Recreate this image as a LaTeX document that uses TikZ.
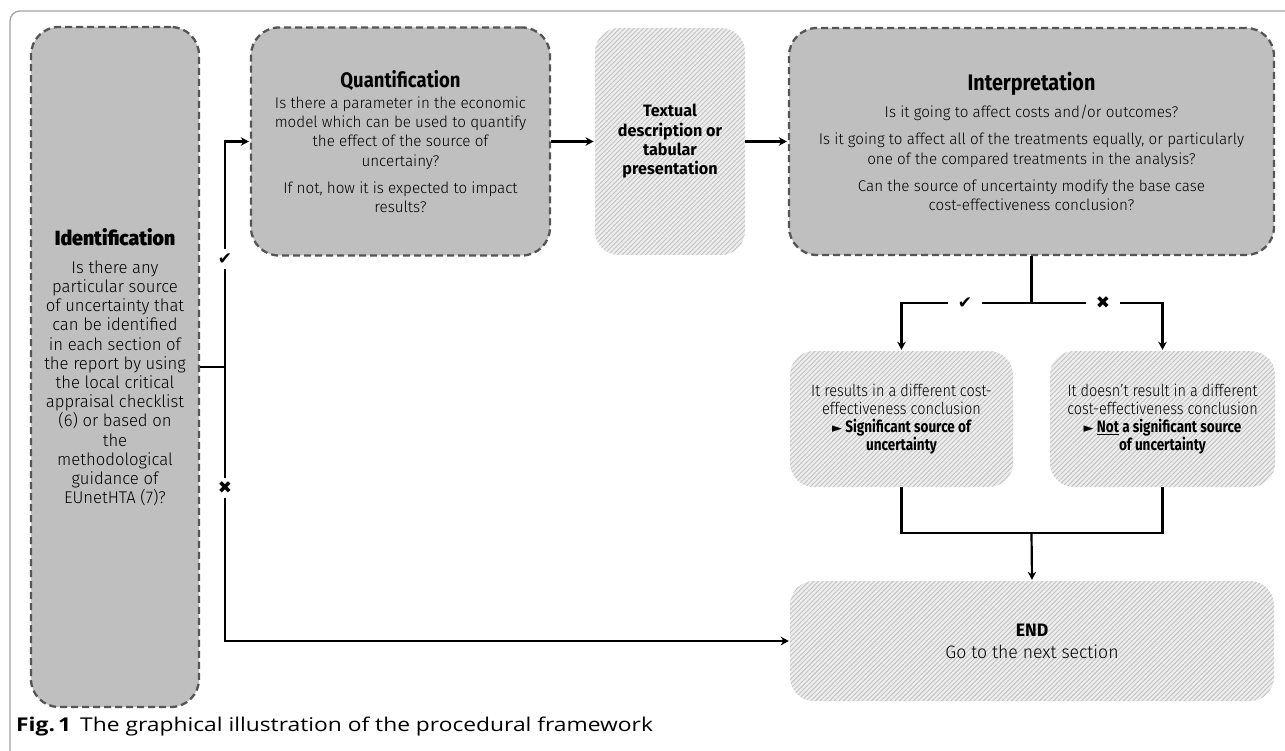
\documentclass[tikz,border=0pt]{standalone}
\usepackage{fontspec}
\setmainfont{Fira Sans}[UprightFont={* Light},BoldFont={* Bold},FakeStretch=0.98]
\newfontfamily\ttlf{Fira Sans}[UprightFont={* Bold},BoldFont={* Bold},FakeStretch=0.88]
\newfontfamily\blackf{Fira Sans}[UprightFont={* Black},BoldFont={* Black},FakeStretch=0.95]
\newfontfamily\condf{Fira Sans}[UprightFont={* Light},BoldFont={* Bold},
  UprightFeatures={FakeStretch=0.88},BoldFeatures={FakeStretch=0.82}]
\newfontfamily\capf{Open Sans}[FakeStretch=1.2]
\newfontfamily\symf{DejaVu Sans}
\usetikzlibrary{arrows.meta,patterns.meta}
\definecolor{boxgray}{HTML}{BFBFBF}
\definecolor{dashgray}{HTML}{555555}
\definecolor{hatchbg}{HTML}{EDEDED}
\definecolor{hatchfg}{HTML}{C4C4C4}
\tikzset{
  qbox/.style={draw=dashgray, fill=boxgray, line width=2.3pt, dash pattern=on 7pt off 4pt,
    rounded corners=28pt, align=center, inner sep=0pt, text=black,
    font=\fontsize{15.5}{19.2}\selectfont},
  hbox/.style={rounded corners=24pt, preaction={fill=hatchbg},
    pattern={Lines[angle=45,distance=3.3pt,line width=0.9pt]}, pattern color=hatchfg,
    align=center, inner sep=0pt},
  conn/.style={line width=2.2pt, black},
  arr/.style={conn, -{Stealth[length=8pt,width=8.5pt,inset=2.5pt]}, shorten >=1pt},
  markv/.style={inner xsep=2pt, inner ysep=4pt, font=\symf\fontsize{17}{17}\selectfont},
  markh/.style={inner xsep=10pt, inner ysep=2pt, font=\symf\fontsize{17}{17}\selectfont}
}
\begin{document}
\begin{tikzpicture}[x=1pt,y=-1pt]
\useasboundingbox (0,0) rectangle (1285,751);
\begin{scope}
  \clip (0,0) rectangle (1285,751);
  \draw[gray!75, line width=1.2pt, rounded corners=10pt] (10,11) rectangle (1300,764);
\end{scope}

% boxes
\node[qbox, minimum width=168pt, minimum height=680pt,
      font=\fontsize{17}{19.2}\selectfont] (id) at (115,367)
  {{\blackf\fontsize{20.5}{24}\selectfont Identification}\\[9pt]
   Is there any\\ particular source\\ of uncertainty that\\ can be identified\\
   in each section of\\ the report by using\\ the local critical\\ appraisal checklist\\
   (6) or based on\\ the\\ methodological\\ guidance of\\ EUnetHTA (7)?};

\node[qbox, minimum width=299pt, minimum height=228pt] (quant) at (400.5,141.5)
  {{\ttlf\fontsize{21}{24}\selectfont Quantification}\\[2pt]
   Is there a parameter in the economic\\ model which can be used to quantify\\
   the effect of the source of\\ uncertainy?\\[8pt]
   If not, how it is expected to impact\\ results?};

\node[hbox, minimum width=150pt, minimum height=227pt,
      font=\bfseries\fontsize{16.5}{19.3}\selectfont] (textb) at (670,141.5)
  {Textual\\ description or\\ tabular\\ presentation};

\node[qbox, minimum width=485pt, minimum height=227pt] (interp) at (1031.5,141.5)
  {{\ttlf\fontsize{22.5}{24}\selectfont Interpretation}\\[8pt]
   Is it going to affect costs and/or outcomes?\\[8pt]
   Is it going to affect all of the treatments equally, or particularly\\
   one of the compared treatments in the analysis?\\[8pt]
   Can the source of uncertainty modify the base case\\
   cost-effectiveness conclusion?};

\node[hbox, minimum width=223pt, minimum height=136pt,
      font=\condf\fontsize{16.5}{18}\selectfont] (res1) at (901.5,419)
  {It results in a different cost-\\ effectiveness conclusion\\
   {\bfseries{\symf\fontsize{13}{13}\selectfont ►} Significant source of}\\
   {\bfseries uncertainty}};

\node[hbox, minimum width=225pt, minimum height=136pt,
      font=\condf\fontsize{16.5}{18}\selectfont] (res2) at (1162.5,419)
  {It doesn’t result in a different\\ cost-effectiveness conclusion\\
   {\bfseries{\symf\fontsize{13}{13}\selectfont ►} \underline{Not} a significant source}\\
   {\bfseries of uncertainty}};

\node[hbox, minimum width=484pt, minimum height=120pt,
      font=\fontsize{18}{22}\selectfont] (endb) at (1032,641)
  {{\bfseries END}\\ Go to the next section};

% connectors from Identification
\coordinate (jn) at (225,367);
\node[markv] (ck1) at (225,259) {✔};
\node[markv] (cx1) at (225,488) {✖};
\draw[conn] (id.east) -- (jn);
\draw[conn] (jn) -- (ck1);
\draw[arr] (ck1) |- (quant.west);
\draw[conn] (jn) -- (cx1);
\draw[arr] (cx1) |- (endb.west);

% top row
\draw[arr] (quant.east) -- (textb.west);
\draw[arr] (textb.east) -- (interp.west);

% interpretation split
\coordinate (split) at (1031.5,303);
\node[markh] (ck2) at (965,303) {✔};
\node[markh] (cx2) at (1103,303) {✖};
\draw[conn] (interp.south) -- (split);
\draw[conn] (split) -- (ck2);
\draw[arr] (ck2) -| (res1.north);
\draw[conn] (split) -- (cx2);
\draw[arr] (cx2) -| (res2.north);

% merge to END
\coordinate (merge) at (1031.5,533);
\draw[conn] (res1.south) |- (merge) -| (res2.south);
\draw[arr] (merge) -- (endb.north);

% caption
\node[anchor=west, inner sep=0pt, font=\capf\fontsize{19}{22}\selectfont] (cap) at (16,727)
  {{\bfseries Fig.\,1}\hspace{9pt}The graphical illustration of the procedural framework};
\end{tikzpicture}
\end{document}
